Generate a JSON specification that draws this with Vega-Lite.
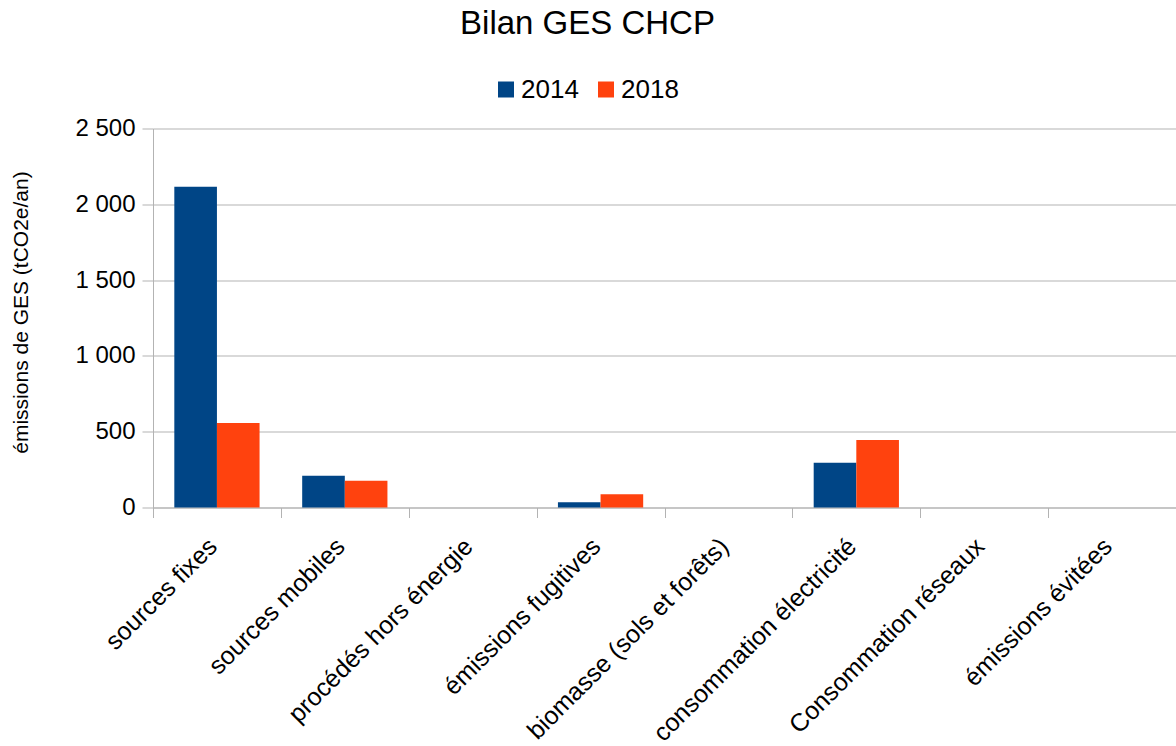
{
  "$schema": "https://vega.github.io/schema/vega-lite/v6.json",
  "width": 1023,
  "height": 379,
  "autosize": {"type": "none"},
  "padding": {"left": 153, "top": 128.5, "right": 0, "bottom": 238},
  "background": "white",
  "config": {
    "font": "Liberation Sans",
    "view": {"stroke": null},
    "locale": {"number": {"decimal": ",", "thousands": " ", "grouping": [3], "currency": ["", " €"]}}
  },
  "title": {
    "text": "Bilan GES CHCP",
    "fontSize": 33,
    "fontWeight": "normal",
    "font": "Liberation Sans",
    "color": "#000000",
    "anchor": "middle",
    "dx": -77,
    "offset": 36
  },
  "data": {
    "values": [
      {"cat": "sources fixes", "year": "2014", "value": 2116},
      {"cat": "sources fixes", "year": "2018", "value": 558},
      {"cat": "sources mobiles", "year": "2014", "value": 209},
      {"cat": "sources mobiles", "year": "2018", "value": 176},
      {"cat": "procédés hors énergie", "year": "2014", "value": 0},
      {"cat": "procédés hors énergie", "year": "2018", "value": 0},
      {"cat": "émissions fugitives", "year": "2014", "value": 35},
      {"cat": "émissions fugitives", "year": "2018", "value": 88},
      {"cat": "biomasse (sols et forêts)", "year": "2014", "value": 0},
      {"cat": "biomasse (sols et forêts)", "year": "2018", "value": 0},
      {"cat": "consommation électricité", "year": "2014", "value": 295},
      {"cat": "consommation électricité", "year": "2018", "value": 446},
      {"cat": "Consommation réseaux", "year": "2014", "value": 0},
      {"cat": "Consommation réseaux", "year": "2018", "value": 0},
      {"cat": "émissions évitées", "year": "2014", "value": 0},
      {"cat": "émissions évitées", "year": "2018", "value": 0}
    ]
  },
  "mark": {"type": "bar"},
  "encoding": {
    "x": {
      "field": "cat",
      "type": "nominal",
      "sort": null,
      "scale": {"paddingInner": 0, "paddingOuter": 0},
      "axis": {
        "title": null,
        "labelAngle": -45,
        "labelFontSize": 25,
        "labelColor": "#000000",
        "labelFont": "Liberation Sans",
        "labelLimit": 600,
        "labelOffset": -13,
        "tickBand": "extent",
        "tickSize": 10,
        "tickColor": "#b3b3b3",
        "domainColor": "#b3b3b3",
        "labelPadding": 16,
        "grid": false
      }
    },
    "xOffset": {
      "field": "year",
      "type": "nominal",
      "scale": {"paddingInner": 0, "paddingOuter": 0.5}
    },
    "y": {
      "field": "value",
      "type": "quantitative",
      "scale": {"domain": [0, 2500], "nice": false},
      "axis": {
        "title": "émissions de GES (tCO2e/an)",
        "titleFontSize": 21,
        "titleFontWeight": "normal",
        "titleFont": "Liberation Sans",
        "titleColor": "#000000",
        "titlePadding": 43,
        "titleY": 183.5,
        "values": [0, 500, 1000, 1500, 2000, 2500],
        "format": ",d",
        "labelFontSize": 24,
        "labelColor": "#000000",
        "labelFont": "Liberation Sans",
        "labelPadding": 7,
        "tickSize": 11,
        "tickColor": "#b3b3b3",
        "domainColor": "#b3b3b3",
        "gridColor": "#b3b3b3",
        "grid": true
      }
    },
    "color": {
      "field": "year",
      "type": "nominal",
      "scale": {"domain": ["2014", "2018"], "range": ["#004586", "#ff420e"]},
      "legend": {
        "title": null,
        "orient": "none",
        "direction": "horizontal",
        "legendX": 340,
        "legendY": -52,
        "symbolType": "square",
        "symbolSize": 256,
        "symbolStrokeWidth": 0,
        "labelFontSize": 26,
        "labelFont": "Liberation Sans",
        "labelColor": "#000000",
        "columnPadding": 14,
        "labelOffset": 2
      }
    }
  }
}
